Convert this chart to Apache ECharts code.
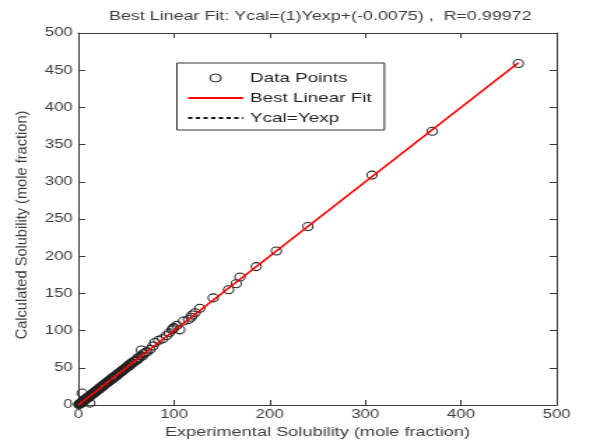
<!DOCTYPE html>
<html>
<head>
<meta charset="utf-8">
<script src="https://cdn.jsdelivr.net/npm/echarts@6/dist/echarts.min.js"></script>
<style>
html,body{margin:0;padding:0;background:#fff;overflow:hidden}
#c{width:424px;height:445px;transform:scaleX(1.3986);transform-origin:0 0}
</style>
</head>
<body>
<div id="c"></div>
<script>
var titleText = 'Best Linear Fit: Ycal=(1)Yexp+(-0.0075) ,  R=0.99972';
var xAxisName = 'Experimental Solubility (mole fraction)';
var yAxisName = 'Calculated Solubility (mole fraction)';
var legendNames = ['Data Points', 'Best Linear Fit', 'Ycal=Yexp'];

var expValues = [0.5,1,1.5,2,2.5,3,3.5,4,4,4.5,5,5.5,6,6.5,7,7.5,8,8.5,9,9.5,10,10.5,11,12,12,12.5,13,14,14.5,15,16,16.5,17,18,18.5,19,20,21,22,22.5,23,24,25,26,26.5,27,28,29,30,30.5,31,32,33,34,35,36,36.5,37,38,39,40,41,42,43,44,45,46,47,48,49,50,51,52,53,54,55,56,57,58,60,61,62,63,65,66,67,68,70,72,75,78,80,84,88,92,95,98,99,100,103,106,110,115,118,119,122,127,141,157,165,169,186,207,240,307,370,460];
var calValues = [0.6,1.2,1.3,2.4,2.2,3.3,3.1,4.4,16,4.2,5.5,5.1,6.3,6.9,6.8,7.9,8.3,8.1,9.4,9.2,10.5,9.9,11.4,2.5,12.3,11.8,13.6,13.7,15.1,14.6,16.5,15.8,17.6,17.5,19.2,18.7,20.6,20.3,22.8,21.9,23.5,24.6,24.3,26.9,25.8,27.7,28.1,29.8,29.4,31.2,31.8,31.5,33.9,33.4,35.6,36.9,35.7,37.5,38.6,38.2,40.8,40.4,42.9,42.5,44.1,45.9,45.3,47.6,48.3,48.7,50.9,51.6,51.2,54.1,53.4,55.7,56.8,56.3,58.9,59.5,60.4,63.1,62.2,66.2,74,65.9,68.8,70.5,71.6,74.8,79.2,84,87,89,93,97,101,103,104,107,101,113,115,118,121,124,130,144,155,163,172,186,207,240,309,368,459];
var fitX = [0, 460];
var fitY = [-0.0075, 459.9925];
var idealX = [0, 460];
var idealY = [0, 460];

var pts = expValues.map(function(v, i){ return [v, calValues[i]]; });
var fitLine = fitX.map(function(v, i){ return [v, fitY[i]]; });
var idealLine = idealX.map(function(v, i){ return [v, idealY[i]]; });

var SX = 1.3986; // horizontal stretch of the reference picture
var chart = echarts.init(document.getElementById('c'), null, {renderer: 'canvas'});
var axisColor = '#3a3a3a';
var txtColor = '#3c3c3c';
var fontFam = 'Liberation Sans';
function baseAxis(extra){
  var a = {
    type: 'value', min: 0, max: 500,
    axisLine: {show: true, onZero: false, lineStyle: {color: axisColor, width: 1}},
    axisTick: {show: true, inside: true, length: 5, lineStyle: {color: axisColor}},
    splitLine: {show: false},
    axisLabel: {show: false}
  };
  for (var k in extra) a[k] = extra[k];
  return a;
}
var hiddenSym = {opacity: 0, borderWidth: 0};
chart.setOption({
  animation: false,
  backgroundColor: '#fff',
  title: {
    text: titleText, left: 224, top: 5, textAlign: 'center',
    textStyle: {fontFamily: fontFam, fontSize: 12.8, fontWeight: 'normal', color: txtColor}
  },
  grid: {left: 56, right: 26, top: 33, bottom: 40},
  legend: {
    orient: 'vertical', left: 126.5, top: 63,
    borderColor: '#333', borderWidth: 1, padding: [8, 9, 5, 7],
    itemGap: 6, itemWidth: 39.3, itemHeight: 8,
    textStyle: {fontFamily: fontFam, fontSize: 13.5, color: '#222'},
    data: [
      {name: legendNames[0], icon: 'circle', itemStyle: {color: 'rgba(0,0,0,0)', borderColor: '#222', borderWidth: 1}},
      {name: legendNames[1], itemStyle: hiddenSym},
      {name: legendNames[2], itemStyle: hiddenSym}
    ]
  },
  graphic: [{
    type: 'text', x: 15.7, y: 225, rotation: Math.PI / 2, scaleY: 1 / SX,
    style: {text: yAxisName, font: '14.6px "Liberation Sans"', fill: txtColor, align: 'center', verticalAlign: 'middle'}
  }],
  xAxis: [
    baseAxis({position: 'bottom', interval: 100,
      name: xAxisName, nameLocation: 'middle', nameGap: 21,
      nameTextStyle: {fontFamily: fontFam, fontSize: 13, color: txtColor},
      axisLabel: {show: true, fontFamily: fontFam, fontSize: 12, color: txtColor, margin: 4}}),
    baseAxis({position: 'top', interval: 100})
  ],
  yAxis: [
    baseAxis({position: 'left', interval: 50,
      axisLabel: {show: true, fontFamily: fontFam, fontSize: 12, color: txtColor, margin: 4}}),
    baseAxis({position: 'right', interval: 50})
  ],
  series: [
    {
      name: legendNames[0], type: 'scatter', data: pts,
      symbol: 'circle', symbolSize: [7.2, 8],
      itemStyle: {color: 'rgba(0,0,0,0)', borderColor: '#222', borderWidth: 1, opacity: 1},
      z: 2
    },
    {
      name: legendNames[2], type: 'line', data: idealLine, symbol: 'none',
      lineStyle: {color: '#111', width: 1, type: [3, 2.5]}, itemStyle: {color: '#111'},
      z: 3
    },
    {
      name: legendNames[1], type: 'line', data: fitLine, symbol: 'none',
      lineStyle: {color: '#ff0000', width: 1.6}, itemStyle: {color: '#ff0000'},
      z: 4
    }
  ]
});
</script>
</body>
</html>
